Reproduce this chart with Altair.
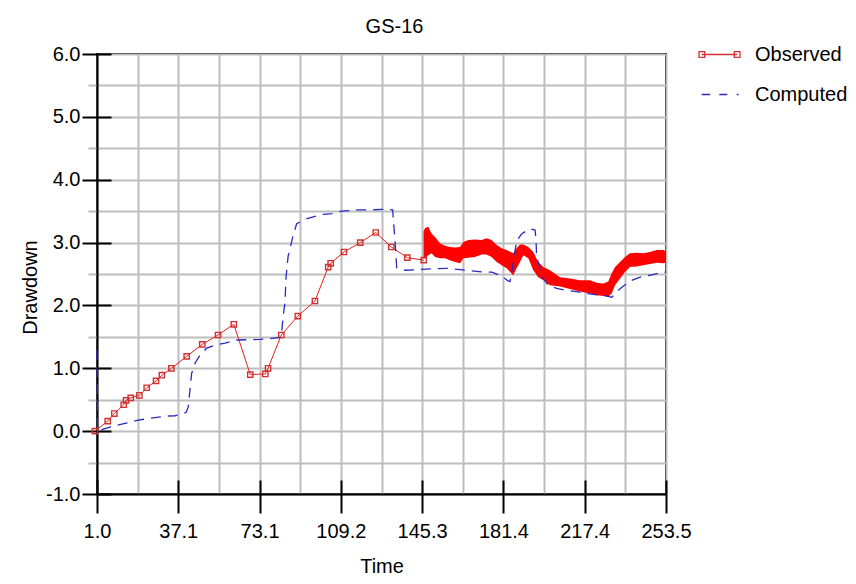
import altair as alt
import pandas as pd

FONT = "Liberation Sans"

# ---- Observed (sparse part) ----
obs_t = [0.1, 5.75, 8.7, 12.85, 13.9, 15.95, 19.8, 23.05, 27.2, 29.8, 34.0, 40.8, 47.7,
         54.7, 61.7, 69.0, 75.7, 76.9, 82.8, 90.1, 97.7, 103.6, 104.7, 110.6, 117.8,
         124.7, 131.6, 138.7, 146.0]
obs_v = [0.0, 0.16, 0.28, 0.42, 0.49, 0.53, 0.57, 0.69, 0.80, 0.89, 1.00, 1.19, 1.38,
         1.53, 1.70, 0.90, 0.91, 1.00, 1.53, 1.83, 2.07, 2.61, 2.67, 2.85, 3.00,
         3.16, 2.93, 2.76, 2.72]

# ---- Observed (dense logger part): band top / bottom ----
dense_t = [145.9, 146.6, 148.0, 149.5, 151.0, 153.2, 155.4, 157.6, 159.9, 162.1, 163.6,
           165.8, 168.7, 171.7, 173.9, 176.1, 178.4, 180.6, 182.8, 185.7, 187.2, 188.7,
           190.2, 192.4, 194.6, 196.8, 199.1, 202.0, 206.5, 210.9, 215.3, 219.8, 222.7,
           225.7, 227.9, 229.4, 230.9, 233.1, 235.3, 237.5, 240.5, 243.4, 246.4, 249.4,
           252.3, 253.5]
dense_top = [3.18, 3.23, 3.25, 3.14, 3.09, 2.99, 2.95, 2.93, 2.92, 2.93, 3.01,
             3.04, 3.05, 3.04, 3.07, 3.04, 2.96, 2.91, 2.88, 2.83, 2.91, 2.97,
             2.97, 2.93, 2.85, 2.69, 2.61, 2.56, 2.45, 2.43, 2.40, 2.40, 2.36,
             2.35, 2.38, 2.51, 2.61, 2.69, 2.77, 2.83, 2.84, 2.83, 2.85, 2.88,
             2.88, 2.86]
dense_bot = [2.74, 2.75, 2.80, 2.83, 2.77, 2.75, 2.75, 2.72, 2.69, 2.67, 2.75,
             2.76, 2.77, 2.81, 2.81, 2.77, 2.69, 2.64, 2.59, 2.48, 2.59, 2.69,
             2.80, 2.75, 2.56, 2.45, 2.40, 2.32, 2.30, 2.26, 2.22, 2.19, 2.16,
             2.15, 2.14, 2.19, 2.32, 2.43, 2.53, 2.61, 2.62, 2.64, 2.66, 2.68,
             2.67, 2.68]

# ---- Computed ----
comp_t = [1.0, 1.3, 4.5, 9.0, 12.0, 16.4, 19.3, 23.8, 27.5, 31.9, 35.6, 39.3, 40.6, 41.5,
          43.0, 44.5, 46.7, 49.7, 53.4, 57.8, 63.0, 73.3, 77.8, 82.2, 83.0, 83.7, 84.4,
          84.9, 85.8, 88.1, 89.6, 93.3, 97.0, 101.4, 105.2, 109.6, 116.8, 122.2, 128.8,
          132.2, 133.2, 134.0, 137.7, 148.8, 156.2, 165.1, 172.4, 176.2, 180.6, 183.4,
          184.3, 185.7, 187.2, 189.5, 193.2, 195.4, 195.8, 196.1, 197.5, 198.8, 201.3,
          205.0, 209.4, 213.9, 218.3, 227.2, 229.5, 231.6, 234.6, 238.3, 242.0, 246.4,
          250.8, 253.5]
comp_v = [1.29, 0.0, 0.04, 0.085, 0.11, 0.15, 0.175, 0.20, 0.22, 0.24, 0.245, 0.28, 0.30, 0.39,
          0.92, 1.08, 1.21, 1.32, 1.37, 1.40, 1.45, 1.46, 1.47, 1.49, 1.60, 1.85, 2.04,
          2.45, 2.78, 3.12, 3.30, 3.37, 3.41, 3.45, 3.46, 3.50, 3.52, 3.52, 3.53,
          3.52, 3.05, 2.60, 2.56, 2.58, 2.59, 2.56, 2.53, 2.53, 2.47, 2.39,
          2.38, 2.67, 3.03, 3.14, 3.22, 3.20, 3.05, 2.77, 2.60, 2.44, 2.32,
          2.27, 2.24, 2.22, 2.19, 2.15, 2.13, 2.22, 2.31, 2.40, 2.45, 2.48,
          2.52, 2.53]

series = ["Observed", "Computed"]

x_ticks = [1.0, 19.04, 37.07, 55.11, 73.14, 91.18, 109.21, 127.25, 145.29, 163.32,
           181.36, 199.39, 217.43, 235.46, 253.5]
x_major = [1.0, 37.07, 73.14, 109.21, 145.29, 181.36, 217.43, 253.5]
y_ticks = [-1.0, -0.5, 0.0, 0.5, 1.0, 1.5, 2.0, 2.5, 3.0, 3.5, 4.0, 4.5, 5.0, 5.5, 6.0]
y_major = [-1.0, 0.0, 1.0, 2.0, 3.0, 4.0, 5.0, 6.0]

RED = "#e8201e"
MARK_RED = "#d03232"
BLUE = "#2a2abf"
GRID = "#bdbdbd"

obs_df = pd.DataFrame({"t": obs_t, "v": obs_v})
dense_df = pd.DataFrame({"t": dense_t, "top": dense_top, "bot": dense_bot})
comp_df = pd.DataFrame({"t": comp_t, "v": comp_v})
leg_df = pd.DataFrame({"series": series})

xs = alt.Scale(domain=[1.0, 253.5], nice=False, zero=False)
ys = alt.Scale(domain=[-1.0, 6.0], nice=False, zero=False)

xmaj_js = "[" + ",".join(str(v) for v in x_major) + "]"
x_is_major = f"indexof({xmaj_js}, datum.value) >= 0"

x_axis = alt.Axis(
    orient="bottom", values=x_ticks, grid=True, gridColor=GRID, gridWidth=2,
    domainColor="black", domainWidth=2,
    tickColor="black", tickWidth=2,
    tickSize={"condition": {"test": x_is_major, "value": 19}, "value": 0},
    labelExpr=f"{x_is_major} ? format(datum.value, '.1f') : ''",
    labelFont=FONT, labelFontSize=20, labelColor="black", labelPadding=8,
    labelFlush=False, labelOverlap=False,
    title="Time", titleFont=FONT, titleFontSize=20, titleFontWeight="normal",
    titleColor="black", titlePadding=15,
)
y_axis = alt.Axis(
    orient="left", values=y_ticks, grid=True, gridColor=GRID, gridWidth=2,
    domainColor="black", domainWidth=2,
    tickColor={"condition": {"test": "datum.value % 1 == 0", "value": "black"}, "value": GRID},
    tickWidth=2,
    tickSize={"condition": {"test": "datum.value % 1 == 0", "value": 15}, "value": 9},
    labelExpr="datum.value % 1 == 0 ? replace(format(datum.value, '.1f'), '\u2212', '-') : ''",
    labelFont=FONT, labelFontSize=20, labelColor="black", labelPadding=2,
    labelFlush=False, labelOverlap=False,
    title="Drawdown", titleFont=FONT, titleFontSize=20, titleFontWeight="normal",
    titleColor="black", titlePadding=5, titleY=233,
)
x_inner = alt.Axis(orient="bottom", offset=-14, values=x_major, tickSize=14, tickColor="black",
                   tickWidth=2, labels=False, domain=False, grid=False, title=None)
y_inner = alt.Axis(orient="left", offset=-14, values=y_major, tickSize=14, tickColor="black",
                   tickWidth=2, labels=False, domain=False, grid=False, title=None)

obs_line = alt.Chart(obs_df).mark_line(color=RED, strokeWidth=1).encode(
    x=alt.X("t:Q", scale=xs, axis=x_axis),
    y=alt.Y("v:Q", scale=ys, axis=y_axis),
)
obs_pts = alt.Chart(obs_df).mark_point(shape="square", filled=False, size=28,
                                       color=MARK_RED, strokeWidth=1.4, opacity=1).encode(
    x=alt.X("t:Q", scale=xs, axis=None),
    y=alt.Y("v:Q", scale=ys, axis=None),
)
dense = alt.Chart(dense_df).mark_area(color="red", opacity=1).encode(
    x=alt.X("t:Q", scale=xs, axis=None),
    y=alt.Y("top:Q", scale=ys, axis=None),
    y2="bot:Q",
)
comp = alt.Chart(comp_df).mark_line(color=BLUE, strokeWidth=1.3, strokeDash=[10, 7]).encode(
    x=alt.X("t:Q", scale=xs, axis=x_inner),
    y=alt.Y("v:Q", scale=ys, axis=y_inner),
)

path_obs = "M-0.86,0H0.86M-1,-0.14H-0.72V0.14H-1ZM0.72,-0.14H1V0.14H0.72Z"
path_comp = "M-0.87,0H-0.46M-0.01,0H0.38M0.84,0H0.93"

legend = alt.Legend(
    title=None, orient="none", legendX=601, legendY=-21, padding=0,
    labelFont=FONT, labelFontSize=20, labelColor="black", labelOffset=14,
    symbolSize=1681, symbolStrokeWidth=1.3, symbolOpacity=1, rowPadding=8,
)
leg = alt.Chart(leg_df).mark_point(filled=False, opacity=0).encode(
    color=alt.Color("series:N", scale=alt.Scale(domain=series, range=[MARK_RED, BLUE]), legend=legend),
    shape=alt.Shape("series:N", scale=alt.Scale(domain=series, range=[path_obs, path_comp]), legend=legend),
)

chart = alt.layer(obs_line, dense, obs_pts, comp, leg).resolve_axis(
    x="independent", y="independent"
).properties(
    width=569, height=440,
    title=alt.TitleParams("GS-16", font=FONT, fontSize=20, fontWeight="normal", color="black",
                          anchor="middle", frame="group", dx=13, dy=20, offset=16),
    autosize=alt.AutoSizeParams(type="none"),
    padding={"left": 89, "top": 46, "right": 182, "bottom": 82},
).configure_view(stroke="black", strokeWidth=2)

chart.save("out.html", embed_options={"renderer": "svg", "actions": False})
